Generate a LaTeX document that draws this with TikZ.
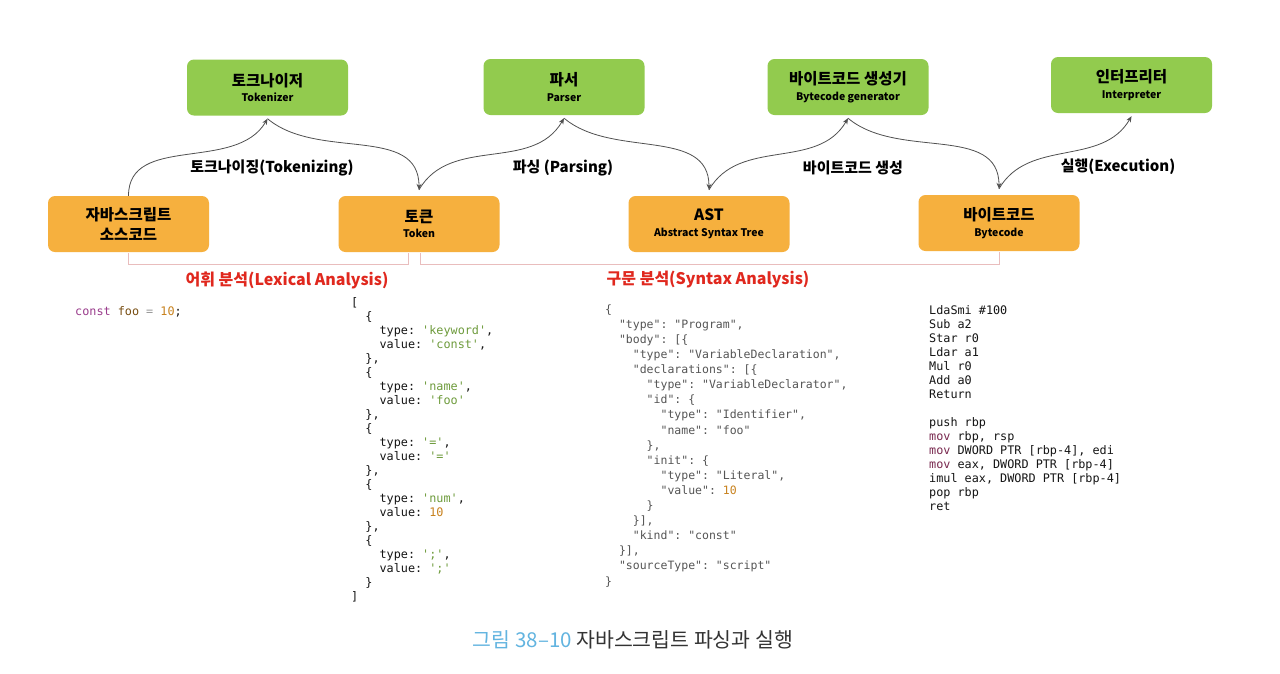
\documentclass[tikz,border=0pt]{standalone}
\usepackage{fontspec}
\setmainfont{Noto Sans CJK KR}
\setmonofont{DejaVu Sans Mono}
\usetikzlibrary{arrows.meta}
\definecolor{boxgreen}{HTML}{92CB4E}
\definecolor{boxorange}{HTML}{F6B03E}
\definecolor{arrowgray}{HTML}{505050}
\definecolor{brkpink}{HTML}{E9BDBD}
\definecolor{redlab}{HTML}{E0281E}
\definecolor{capblue}{HTML}{62B4E0}
\definecolor{capdark}{HTML}{333333}
\definecolor{kw}{HTML}{9A3C8C}
\definecolor{strc}{HTML}{6E9B3C}
\definecolor{numc}{HTML}{C8821E}
\definecolor{codek}{HTML}{151515}
\definecolor{astc}{HTML}{555555}
\definecolor{movc}{HTML}{7A2A50}
\definecolor{eqc}{HTML}{999999}
\begin{document}
\begin{tikzpicture}[x=1pt,y=-1pt,
  gbox/.style={fill=boxgreen, rounded corners=7pt, minimum width=161pt, minimum height=56pt, align=center, inner sep=0pt, font=\fontsize{10.5}{15.5}\selectfont},
  obox/.style={gbox, fill=boxorange},
  flow/.style={draw=arrowgray, line width=0.8pt, -{Stealth[length=6pt,width=5pt]}},
  lab/.style={font=\bfseries\fontsize{15}{18}\selectfont, text=black},
  redl/.style={font=\bfseries\fontsize{16}{18}\selectfont, text=redlab},
  brk/.style={draw=brkpink, line width=1pt},
  code/.style={font=\ttfamily\fontsize{11.8}{14}\selectfont, align=left, inner sep=0pt, anchor=north west, text=codek}
]
\fill[white] (0,0) rectangle (1280,673);
\useasboundingbox (0,0) rectangle (1280,673);

% upper boxes
\node[gbox] (tkz) at (267.5,87.5) {{\bfseries\fontsize{15.5}{15.5}\selectfont 토크나이저}\\\textbf{Tokenizer}};
\node[gbox] (par) at (564,87) {{\bfseries\fontsize{15.5}{15.5}\selectfont 파서}\\\textbf{Parser}};
\node[gbox] (bcg) at (848,87) {{\bfseries\fontsize{15.5}{15.5}\selectfont 바이트코드 생성기}\\\textbf{Bytecode generator}};
\node[gbox] (itp) at (1131.5,85) {{\bfseries\fontsize{15.5}{15.5}\selectfont 인터프리터}\\\textbf{Interpreter}};

% lower boxes
\node[obox, font=\bfseries\fontsize{15.5}{20}\selectfont] (src) at (128.5,224) {자바스크립트\\소스코드};
\node[obox] (tok) at (419,224) {{\bfseries\fontsize{15.5}{15.5}\selectfont 토큰}\\\textbf{Token}};
\node[obox] (ast) at (709,224) {{\bfseries\fontsize{15.5}{15.5}\selectfont AST}\\\textbf{Abstract Syntax Tree}};
\node[obox] (bc) at (999,223) {{\bfseries\fontsize{15.5}{15.5}\selectfont 바이트코드}\\\textbf{Bytecode}};

% arrows
\draw[flow] (src.north) to[out=90,in=-120] ([yshift=-3pt]tkz.south);
\draw[flow] ([yshift=-3pt]tkz.south) to[out=-40,in=90] ([yshift=6pt]tok.north);
\draw[flow] ([yshift=6pt]tok.north) to[out=60,in=-120] ([yshift=-3pt]par.south);
\draw[flow] ([yshift=-3pt]par.south) to[out=-40,in=90] ([yshift=6pt]ast.north);
\draw[flow] ([yshift=6pt]ast.north) to[out=60,in=-120] ([yshift=-3pt]bcg.south);
\draw[flow] ([yshift=-3pt]bcg.south) to[out=-40,in=90] ([yshift=6pt]bc.north);
\draw[flow] ([yshift=6pt]bc.north) to[out=60,in=-120] ([yshift=-3pt]itp.south);

% arrow labels
\node[lab] (l1) at (272,168) {토크나이징(Tokenizing)};
\node[lab] (l2) at (563,168) {파싱 (Parsing)};
\node[lab] (l3) at (853,168) {바이트코드 생성};
\node[lab] (l4) at (1118,167) {실행(Execution)};

% brackets
\draw[brk] ([yshift=-1pt]src.south) -- ++(0,11) -| ([xshift=-11pt,yshift=-1pt]tok.south);
\draw[brk] ([xshift=1pt,yshift=-1pt]tok.south) -- ++(0,11) -| ([yshift=-1pt]bc.south);
\node[redl] (lex) at (287,280) {어휘 분석(Lexical Analysis)};
\node[redl] (syn) at (708,280) {구문 분석(Syntax Analysis)};

% code blocks
\node[code] (srccode) at (75,305) {\rule{0pt}{10pt}\textcolor{kw}{const} \textcolor{numc!60!black}{foo} \textcolor{eqc}{=} \textcolor{numc}{10};};

\node[code] (tokcode) at (351,296) {\rule{0pt}{10pt}[\\
~~\{\\
~~~~type: \textcolor{strc}{'keyword'},\\
~~~~value: \textcolor{strc}{'const'},\\
~~\},\\
~~\{\\
~~~~type: \textcolor{strc}{'name'},\\
~~~~value: \textcolor{strc}{'foo'}\\
~~\},\\
~~\{\\
~~~~type: \textcolor{strc}{'='},\\
~~~~value: \textcolor{strc}{'='}\\
~~\},\\
~~\{\\
~~~~type: \textcolor{strc}{'num'},\\
~~~~value: \textcolor{numc}{10}\\
~~\},\\
~~\{\\
~~~~type: \textcolor{strc}{';'},\\
~~~~value: \textcolor{strc}{';'}\\
~~\}\\
]};

\node[code, text=astc, font=\ttfamily\fontsize{11.5}{15.1}\selectfont] (astcode) at (605,303) {\rule{0pt}{10pt}\{\\
~~"type": "Program",\\
~~"body": [\{\\
~~~~"type": "VariableDeclaration",\\
~~~~"declarations": [\{\\
~~~~~~"type": "VariableDeclarator",\\
~~~~~~"id": \{\\
~~~~~~~~"type": "Identifier",\\
~~~~~~~~"name": "foo"\\
~~~~~~\},\\
~~~~~~"init": \{\\
~~~~~~~~"type": "Literal",\\
~~~~~~~~"value": \textcolor{numc}{10}\\
~~~~~~\}\\
~~~~\}],\\
~~~~"kind": "const"\\
~~\}],\\
~~"sourceType": "script"\\
\}};

\node[code] (bccode) at (929,304) {\rule{0pt}{10pt}LdaSmi \#100\\
Sub a2\\
Star r0\\
Ldar a1\\
Mul r0\\
Add a0\\
Return\\
\mbox{}\\
push rbp\\
\textcolor{movc}{mov} rbp, rsp\\
\textcolor{movc}{mov} DWORD PTR [rbp-4], edi\\
\textcolor{movc}{mov} eax, DWORD PTR [rbp-4]\\
imul eax, DWORD PTR [rbp-4]\\
pop rbp\\
ret};

% caption
\node[font=\fontsize{20.5}{24}\selectfont] (cap) at (633,640) {\textcolor{capblue}{그림 38–10}\ \textcolor{capdark}{자바스크립트 파싱과 실행}};
\end{tikzpicture}
\end{document}
